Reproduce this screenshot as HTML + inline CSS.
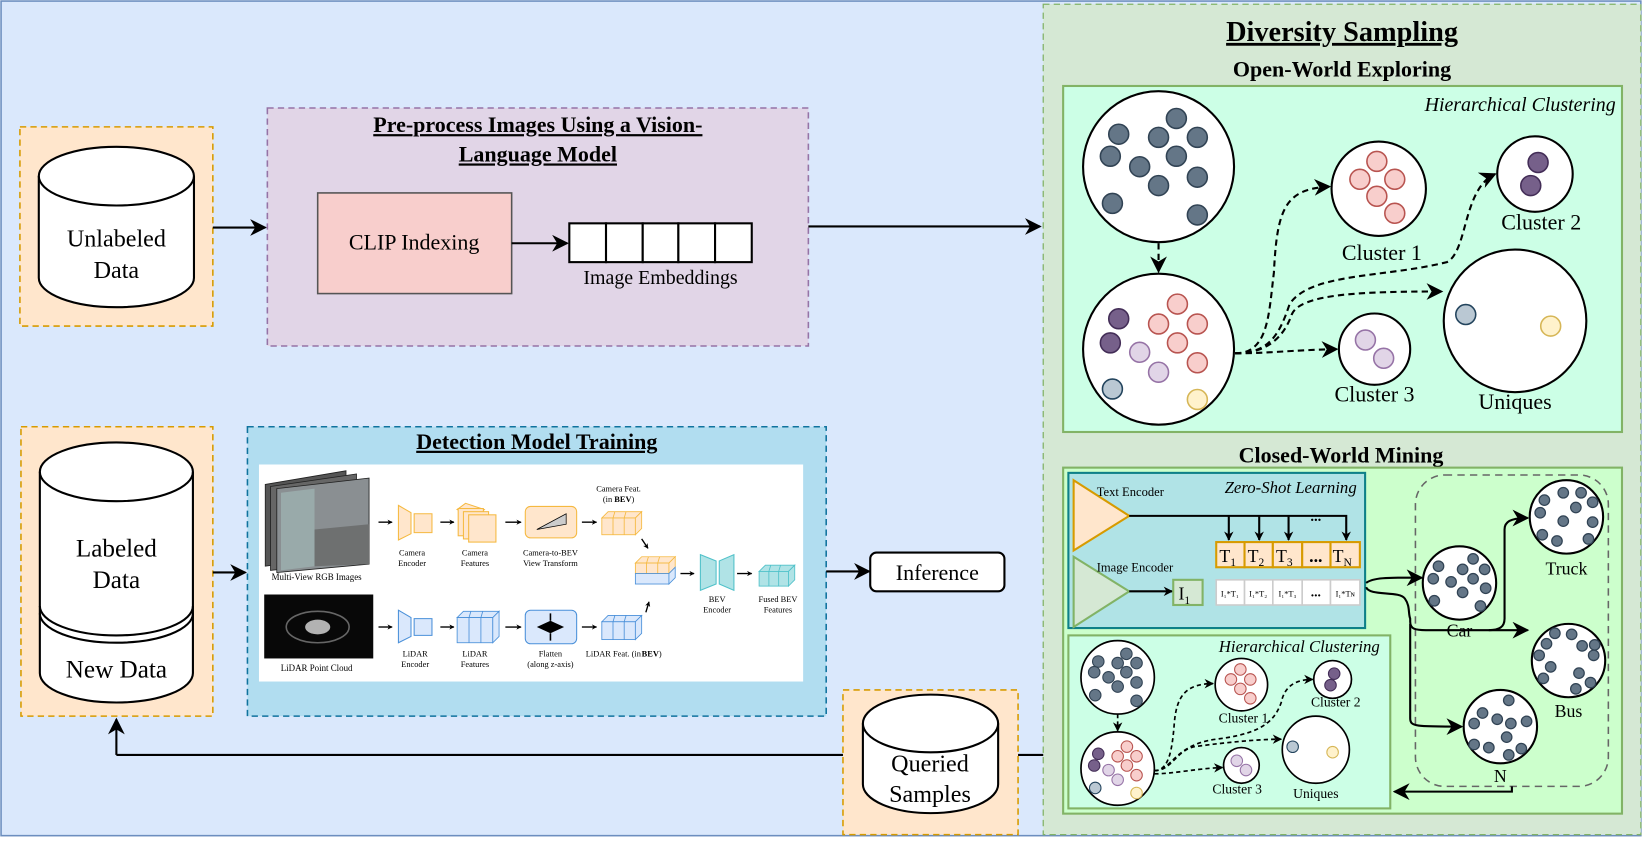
<!DOCTYPE html>
<html><head><meta charset="utf-8"><style>
html,body{margin:0;padding:0;background:#fff;}
svg{display:block;}
text{font-family:"Liberation Serif",serif;}
</style></head><body>
<svg id="s" width="1644" height="843" viewBox="0 0 1568 804" preserveAspectRatio="none" xmlns="http://www.w3.org/2000/svg">
<defs>
<marker id="a" viewBox="0 0 10 10" refX="9" refY="5" markerWidth="7" markerHeight="7" orient="auto" markerUnits="userSpaceOnUse"><path d="M0,0 L10,5 L0,10 L3,5 Z" fill="#000"/></marker>
<marker id="ab" viewBox="0 0 10 10" refX="9" refY="5" markerWidth="16" markerHeight="16" orient="auto" markerUnits="userSpaceOnUse"><path d="M0,0 L10,5 L0,10 L3,5 Z" fill="#000"/></marker>
<marker id="as" viewBox="0 0 10 10" refX="9" refY="5" markerWidth="9" markerHeight="9" orient="auto" markerUnits="userSpaceOnUse"><path d="M0,0 L10,5 L0,10 L3,5 Z" fill="#000"/></marker>
<marker id="at" viewBox="0 0 10 10" refX="9" refY="5" markerWidth="5" markerHeight="5" orient="auto" markerUnits="userSpaceOnUse"><path d="M0,0 L10,5 L0,10 L3,5 Z" fill="#000"/></marker>
</defs>
<rect x="1" y="1" width="1564" height="796" fill="#dae8fc" stroke="#6c8ebf" stroke-width="1.5"/>
<rect x="995" y="4" width="570" height="792" fill="#d5e8d4" stroke="#82b366" stroke-width="1.2" stroke-dasharray="6,4"/>

<rect x="19" y="121" width="184" height="190" fill="#ffe6cc" stroke="#d79b00" stroke-width="1.5" stroke-dasharray="6,4"/>
<path d="M37,168 A74,28 0 0 1 185,168 L185,265 A74,28 0 0 1 37,265 Z" fill="#fff" stroke="#000" stroke-width="2"/>
<path d="M37,168 A74,28 0 0 0 185,168" fill="none" stroke="#000" stroke-width="2"/>
<text x="111" y="235" font-size="23" text-anchor="middle">Unlabeled</text>
<text x="111" y="265" font-size="23" text-anchor="middle">Data</text>
<line x1="203" y1="217" x2="253" y2="217" stroke="#000" stroke-width="2" marker-end="url(#ab)"/>

<rect x="255" y="103" width="516" height="227" fill="#e1d5e7" stroke="#9673a6" stroke-width="1.5" stroke-dasharray="6,4"/>
<text x="513" y="126" font-size="21" font-weight="bold" text-anchor="middle" text-decoration="underline">Pre-process Images Using a Vision-</text>
<text x="513" y="154" font-size="21" font-weight="bold" text-anchor="middle" text-decoration="underline">Language Model</text>
<rect x="303" y="184" width="185" height="96" fill="#f8cecc" stroke="#555" stroke-width="1.5"/>
<text x="395" y="238" font-size="21" text-anchor="middle">CLIP Indexing</text>
<line x1="488" y1="232" x2="541" y2="232" stroke="#000" stroke-width="2" marker-end="url(#ab)"/>
<g fill="#fff" stroke="#000" stroke-width="2">
<rect x="543" y="213" width="35" height="37"/><rect x="578" y="213" width="35" height="37"/><rect x="613" y="213" width="34" height="37"/><rect x="647" y="213" width="35" height="37"/><rect x="682" y="213" width="35" height="37"/>
</g>
<text x="630" y="271" font-size="19" text-anchor="middle">Image Embeddings</text>
<line x1="771" y1="216" x2="992" y2="216" stroke="#000" stroke-width="2" marker-end="url(#ab)"/>

<rect x="20" y="407" width="183" height="276" fill="#ffe6cc" stroke="#d79b00" stroke-width="1.5" stroke-dasharray="6,4"/>
<path d="M38,450 A73,28 0 0 1 184,450 L184,642 A73,28 0 0 1 38,642 Z" fill="#fff" stroke="#000" stroke-width="2"/>
<path d="M38,450 A73,28 0 0 0 184,450" fill="none" stroke="#000" stroke-width="2"/>
<path d="M38,578 A73,28 0 0 0 184,578 M38,585 A73,28 0 0 0 184,585" fill="none" stroke="#000" stroke-width="2"/>
<text x="111" y="531" font-size="24" text-anchor="middle">Labeled</text>
<text x="111" y="561" font-size="24" text-anchor="middle">Data</text>
<text x="111" y="646" font-size="24" text-anchor="middle">New Data</text>
<line x1="203" y1="546" x2="234" y2="546" stroke="#000" stroke-width="2" marker-end="url(#ab)"/>

<rect x="236" y="407" width="552" height="276" fill="#b1ddf0" stroke="#10739e" stroke-width="1.5" stroke-dasharray="6,4"/>
<text x="512" y="428" font-size="21" font-weight="bold" text-anchor="middle" text-decoration="underline">Detection Model Training</text>
<rect x="247" y="443" width="519" height="207" fill="#fff"/>
<g id="det"></g>

<line x1="788" y1="545" x2="829" y2="545" stroke="#000" stroke-width="2" marker-end="url(#ab)"/>
<rect x="830" y="527" width="128" height="37" rx="6" fill="#fff" stroke="#000" stroke-width="2"/>
<text x="894" y="553" font-size="21" text-anchor="middle">Inference</text>

<line x1="995" y1="720" x2="111" y2="720" stroke="#000" stroke-width="2"/>
<line x1="111" y1="720" x2="111" y2="686" stroke="#000" stroke-width="2" marker-end="url(#ab)"/>
<rect x="804" y="658" width="167" height="138" fill="#ffe6cc" stroke="#d79b00" stroke-width="1.5" stroke-dasharray="6,4"/>
<path d="M823,690 A64.5,27.5 0 0 1 952,690 L952,748 A64.5,27.5 0 0 1 823,748 Z" fill="#fff" stroke="#000" stroke-width="2"/>
<path d="M823,690 A64.5,27.5 0 0 0 952,690" fill="none" stroke="#000" stroke-width="2"/>
<text x="887" y="736" font-size="23" text-anchor="middle">Queried</text>
<text x="887" y="765" font-size="23" text-anchor="middle">Samples</text>

<text x="1280" y="39" font-size="27" font-weight="bold" text-anchor="middle" text-decoration="underline">Diversity Sampling</text>
<text x="1280" y="73" font-size="21" font-weight="bold" text-anchor="middle">Open-World Exploring</text>
<rect x="1014" y="82" width="533" height="330" fill="#ccffe6" stroke="#82b366" stroke-width="2"/>
<text x="1541" y="106" font-size="19" font-style="italic" text-anchor="end">Hierarchical Clustering</text>
<g id="hc1"></g>

<text x="1279" y="441" font-size="21" font-weight="bold" text-anchor="middle">Closed-World Mining</text>
<rect x="1014" y="446" width="533" height="330" fill="#ccffcc" stroke="#82b366" stroke-width="2"/>
<rect x="1019" y="451" width="283" height="148" fill="#b0e3e6" stroke="#0e8088" stroke-width="2"/>
<text x="1294" y="470" font-size="16" font-style="italic" text-anchor="end">Zero-Shot Learning</text>
<path d="M1024,458 L1077,492 L1024,525 Z" fill="#ffe6cc" stroke="#d79b00" stroke-width="2"/>
<path d="M1024,531 L1077,564 L1024,598 Z" fill="#d5e8d4" stroke="#82b366" stroke-width="2"/>
<text x="1046" y="473" font-size="12">Text Encoder</text>
<text x="1046" y="545" font-size="12">Image Encoder</text>
<g stroke="#000" stroke-width="2" fill="none">
<path d="M1077,492 H1284 V515" marker-end="url(#as)"/>
<path d="M1172,492 V515" marker-end="url(#as)"/>
<path d="M1201,492 V515" marker-end="url(#as)"/>
<path d="M1229,492 V515" marker-end="url(#as)"/>
<path d="M1077,564 H1118" marker-end="url(#as)"/>
</g>
<text x="1255" y="497" font-size="14" font-weight="bold" text-anchor="middle">...</text>
<g fill="#ffe6cc" stroke="#d79b00" stroke-width="2">
<rect x="1160" y="517" width="27" height="24"/><rect x="1187" y="517" width="27" height="24"/><rect x="1214" y="517" width="28" height="24"/><rect x="1242" y="517" width="27" height="24"/><rect x="1269" y="517" width="28" height="24"/>
</g>
<g font-size="17">
<text x="1163" y="536">T<tspan font-size="11" dy="4">1</tspan></text>
<text x="1190" y="536">T<tspan font-size="11" dy="4">2</tspan></text>
<text x="1217" y="536">T<tspan font-size="11" dy="4">3</tspan></text>
<text x="1255" y="536" font-weight="bold" text-anchor="middle">...</text>
<text x="1271" y="536">T<tspan font-size="11" dy="4">N</tspan></text>
</g>
<rect x="1119" y="553" width="28" height="24" fill="#d5e8d4" stroke="#82b366" stroke-width="2"/>
<text x="1124" y="572" font-size="17">I<tspan font-size="11" dy="4">1</tspan></text>
<g fill="#fff" stroke="#ccc" stroke-width="1.5">
<rect x="1160" y="553" width="27" height="24"/><rect x="1187" y="553" width="27" height="24"/><rect x="1214" y="553" width="28" height="24"/><rect x="1242" y="553" width="27" height="24"/><rect x="1269" y="553" width="28" height="24"/>
</g>
<g font-size="8" text-anchor="middle">
<text x="1173" y="569">I₁*T₁</text><text x="1200" y="569">I₁*T₂</text><text x="1228" y="569">I₁*T₃</text><text x="1255" y="569" font-size="13" font-weight="bold">...</text><text x="1283" y="569">I₁*Tɴ</text>
</g>

<rect x="1019" y="606" width="307" height="165" fill="#ccffe6" stroke="#82b366" stroke-width="2"/>
<text x="1316" y="622" font-size="16" font-style="italic" text-anchor="end">Hierarchical Clustering</text>
<g id="hc2"></g>

<rect x="1350" y="453" width="184" height="297" rx="28" fill="none" stroke="#666" stroke-width="1.5" stroke-dasharray="7,5"/>
<g stroke="#000" stroke-width="2" fill="none">
<path d="M1303,556 C1310,550 1330,551 1356,551" marker-end="url(#ab)"/>
<path d="M1303,560 C1306,569 1335,563 1340,571 C1345,578 1343,585 1345,590 L1345,593 C1345,600 1350,601 1360,601 L1457,601" marker-end="url(#ab)"/>
<path d="M1420,601 C1430,601 1435,598 1435,590 L1435,505 C1435,498 1440,494 1457,494" marker-end="url(#ab)"/>
<path d="M1345,595 L1345,685 C1345,693 1350,693 1394,693" marker-end="url(#ab)"/>
<path d="M1442,750 V755 H1330" marker-end="url(#ab)"/>
</g>
<g id="cls"></g>
</svg>
<script>
function add(id,html){document.getElementById(id).insertAdjacentHTML('beforeend',html);}
function circ(cx,cy,r,f,s,w){return '<circle cx="'+cx+'" cy="'+cy+'" r="'+r+'" fill="'+f+'" stroke="'+s+'" stroke-width="'+w+'"/>';}
var C={dk:['#647687','#314354'],red:['#f8cecc','#b85450'],pu:['#76608a','#432d57'],lp:['#e1d5e7','#9673a6'],bl:['#bac8d3','#23445d'],ye:['#fff2cc','#d6b656']};
var H={
 big:[1105,159,72,[[-38,-31],[17,-46],[0,-28],[37,-28],[-46,-10],[-18,0],[17,-10],[37,10],[0,18],[-44,35],[37,46]].map(function(p){return p.concat('dk')})],
 low:[1105,333,72,[[-38,-29,'pu'],[-46,-6,'pu'],[18,-43,'red'],[0,-24,'red'],[37,-24,'red'],[18,-6,'red'],[37,13,'red'],[-18,3,'lp'],[0,22,'lp'],[-44,38,'bl'],[37,48,'ye']]],
 c1:[1324,175,50,[[-2,-29,'red'],[-20,-10,'red'],[17,-10,'red'],[-2,8,'red'],[17,26,'red']]],
 c2:[1463,165,36,[[3,-11,'pu'],[-4,11,'pu']]],
 c3:[1313,328,35,[[-9,-9,'lp'],[9,9,'lp']]],
 un:[1445,306,68,[[-47,-6,'bl'],[34,5,'ye']]]
};
function drawH(id,pos,k,fs,labs,arrows,mk){
  var s='';
  s+='<g stroke="#000" stroke-width="'+(k>0.7?2:1.6)+'" fill="none" stroke-dasharray="'+(k>0.7?'6,4':'4,3')+'">'+arrows.map(function(d){return '<path d="'+d+'" marker-end="url(#'+mk+')"/>';}).join('')+'</g>';
  for(var n in H){var h=H[n],p=pos[n];
    s+=circ(p[0],p[1],p[2],'#fff','#000',k>0.7?2:1.6);
    var sc=p[2]/h[2];
    var dr=k>0.7?9.5:5.5;
    h[3].forEach(function(d){var c=C[d[2]];s+=circ((p[0]+d[0]*sc).toFixed(1),(p[1]+d[1]*sc).toFixed(1),dr,c[0],c[1],k>0.7?1.5:1);});
  }
  labs.forEach(function(l){s+='<text x="'+l[1]+'" y="'+l[2]+'" font-size="'+fs+'" text-anchor="middle">'+l[0]+'</text>';});
  add(id,s);
}
drawH('hc1',{big:[1105,159,72],low:[1105,333,72],c1:[1315,180,45],c2:[1464,166,36],c3:[1311,333,34],un:[1445,306,68]},1,21,
 [['Cluster 1',1318,248],['Cluster 2',1470,219],['Cluster 3',1311,383],['Uniques',1445,390]],
 ['M1105,232 V259',
  'M1178,337 C1210,337 1210,300 1215,260 C1218,200 1225,180 1268,178',
  'M1178,337 C1210,337 1220,320 1230,290 C1250,260 1320,265 1380,250 C1400,240 1395,180 1426,166',
  'M1178,337 C1210,337 1225,320 1232,300 C1240,280 1300,278 1375,278',
  'M1178,337 C1210,337 1230,334 1275,333'],'ab');
drawH('hc2',{big:[1066,646,35],low:[1066,733,35],c1:[1184,653,25],c2:[1271,648,18],c3:[1184,730,17],un:[1255,715,32]},0.5,13,
 [['Cluster 1',1186,689],['Cluster 2',1274,674],['Cluster 3',1180,757],['Uniques',1255,761]],
 ['M1066,681 V697',
  'M1101,735 C1115,735 1118,715 1120,690 C1122,665 1130,652 1157,652',
  'M1101,735 C1118,735 1120,710 1160,705 C1200,700 1215,690 1222,670 C1225,655 1235,648 1252,648',
  'M1101,735 C1118,735 1122,715 1140,712 C1170,708 1200,705 1222,705',
  'M1101,738 C1120,738 1140,733 1166,732'],'as');
var cls=[[1392,556,'Car',607,[[13,-23],[-20,-16],[3,-13],[24,-13],[-25,-4],[13,-4],[-8,-1],[25,5],[3,9],[-24,17],[20,22]]],
 [1494,493,'Truck',548,[[-3,-23],[14,-23],[-21,-16],[25,-14],[9,-9],[-25,-4],[-3,4],[25,5],[-23,17],[-9,23],[21,21]]],
 [1496,630,'Bus',684,[[-13,-26],[3,-25],[-21,-16],[13,-14],[25,-15],[-28,-5],[24,-5],[-17,6],[10,12],[-24,17],[21,21],[7,27]]],
 [1431,693,'N',746,[[8,-25],[-17,-13],[-3,-7],[10,-3],[25,-5],[-25,-3],[6,10],[-25,17],[-11,20],[8,27],[20,21]]]];
var s='';
cls.forEach(function(c){s+=circ(c[0],c[1],35,'#fff','#000',2);c[4].forEach(function(d){s+=circ(c[0]+d[0],c[1]+d[1],5,'#647687','#314354',1.2);});s+='<text x="'+c[0]+'" y="'+c[3]+'" font-size="17" text-anchor="middle">'+c[2]+'</text>';});
add('cls',s);
var d='';
function grid(x,y,w,h,dp,f,st){
 var t='<g fill="'+f+'" stroke="'+st+'" stroke-width="0.8">';
 t+='<path d="M'+x+','+(y+dp)+' L'+(x+dp)+','+y+' L'+(x+w+dp)+','+y+' L'+(x+w)+','+(y+dp)+' Z"/>';
 t+='<rect x="'+x+'" y="'+(y+dp)+'" width="'+w+'" height="'+(h-dp)+'"/>';
 t+='<path d="M'+(x+w)+','+(y+dp)+' L'+(x+w+dp)+','+y+' L'+(x+w+dp)+','+(y+h-dp)+' L'+(x+w)+','+(y+h)+' Z"/>';
 for(var i=1;i<3;i++){t+='<line x1="'+(x+w*i/3)+'" y1="'+(y+dp)+'" x2="'+(x+w*i/3)+'" y2="'+(y+h)+'"/>';t+='<line x1="'+(x+w*i/3+dp*0.3)+'" y1="'+y+'" x2="'+(x+w*i/3)+'" y2="'+(y+dp)+'" />';}
 return t+'</g>';}
d+='<g stroke="#222" stroke-width="0.8"><path d="M253,462 L330,449 L330,530 L253,540 Z" fill="#555"/><path d="M258,464 L340,452 L340,535 L258,544 Z" fill="#666"/><path d="M264,466 L352,456 L352,538 L264,546 Z" fill="#8a8f92"/></g>';
d+='<path d="M268,470 L300,466 L300,540 L268,544 Z" fill="#9aa"/><path d="M300,505 L352,500 L352,538 L300,540 Z" fill="#6e7070"/>';
d+='<text x="302" y="553" font-size="8.5" text-anchor="middle">Multi-View RGB Images</text>';
d+='<rect x="252" y="567" width="104" height="61" fill="#080808"/><ellipse cx="303" cy="598" rx="12" ry="7" fill="#ddd" opacity="0.8"/><ellipse cx="303" cy="598" rx="30" ry="15" fill="none" stroke="#666" stroke-width="1.5"/>';
d+='<text x="302" y="640" font-size="8.5" text-anchor="middle">LiDAR Point Cloud</text>';
[[361,374,498],[420,433,498],[482,497,498],[555,569,498],[361,374,598],[420,433,598],[482,497,598],[555,569,598],[649,662,547],[703,717,547]].forEach(function(a){d+='<line x1="'+a[0]+'" y1="'+a[2]+'" x2="'+a[1]+'" y2="'+a[2]+'" stroke="#000" stroke-width="1.3" marker-end="url(#at)"/>';});
d+='<line x1="612" y1="514" x2="618" y2="523" stroke="#000" stroke-width="1.3" marker-end="url(#at)"/><line x1="616" y1="584" x2="619" y2="574" stroke="#000" stroke-width="1.3" marker-end="url(#at)"/>';
d+='<path d="M380,482 L392,489 L392,509 L380,515 Z M395,490 L412,490 L412,508 L395,508 Z" fill="#ffe6cc" stroke="#f5b940" stroke-width="1"/>';
d+='<path d="M380,582 L392,589 L392,607 L380,613 Z M395,590 L412,590 L412,606 L395,606 Z" fill="#dae8fc" stroke="#4a90d9" stroke-width="1"/>';
d+='<g fill="#ffe6cc" stroke="#f5b940" stroke-width="1"><path d="M436,486 L444,480 L462,486 L455,492Z"/><rect x="437" y="485" width="24" height="26"/><rect x="442" y="488" width="24" height="26"/><rect x="447" y="491" width="26" height="26"/></g>';
d+=grid(436,583,34,30,6,'#dae8fc','#4a90d9');
d+='<rect x="501" y="483" width="49" height="30" rx="5" fill="#ffe6cc" stroke="#f5b940"/><path d="M512,505 L540,490 L540,500 Z" fill="#ccc" stroke="#000" stroke-width="0.7"/>';
d+='<rect x="501" y="582" width="49" height="32" rx="5" fill="#dae8fc" stroke="#4a90d9"/><path d="M512,598 L525,592 L538,598 L525,604 Z" fill="#000"/><path d="M525,585 V592 M525,611 V604" stroke="#000" stroke-width="1.5"/>';
d+=grid(574,488,32,22,6,'#ffe6cc','#f5b940');
d+=grid(574,587,32,23,6,'#dae8fc','#4a90d9');
d+=grid(606,531,32,16,6,'#ffe6cc','#f5b940');
d+='<rect x="606" y="547" width="32" height="10" fill="#dae8fc" stroke="#4a90d9" stroke-width="0.8"/><path d="M638,547 L644,541 L644,551 L638,557Z" fill="#dae8fc" stroke="#4a90d9" stroke-width="0.8"/>';
d+='<path d="M668,529 L683,535 L683,557 L668,563 Z M686,535 L700,529 L700,563 L686,557 Z" fill="#b0e3e6" stroke="#4fc1c9" stroke-width="1"/>';
d+=grid(724,539,28,20,6,'#b0e3e6','#4fc1c9');
var L=[['Camera',393,530],['Encoder',393,540],['Camera',453,530],['Features',453,540],['Camera-to-BEV',525,530],['View Transform',525,540],
['Camera Feat.',590,469],['LiDAR',396,626],['Encoder',396,636],['LiDAR',453,626],['Features',453,636],['Flatten',525,626],['(along z-axis)',525,636],['LiDAR Feat. (in ',585,626],
['BEV',684,574],['Encoder',684,584],['Fused BEV',742,574],['Features',742,584]];
L.forEach(function(l){d+='<text x="'+l[1]+'" y="'+l[2]+'" font-size="8" text-anchor="middle">'+l[0]+'</text>';});
d+='<text x="590" y="479" font-size="8" text-anchor="middle">(in <tspan font-weight="bold">BEV</tspan>)</text>';
d+='<text x="612" y="626" font-size="8"><tspan font-weight="bold">BEV</tspan>)</text>';
add('det',d);
</script>
</body></html>
